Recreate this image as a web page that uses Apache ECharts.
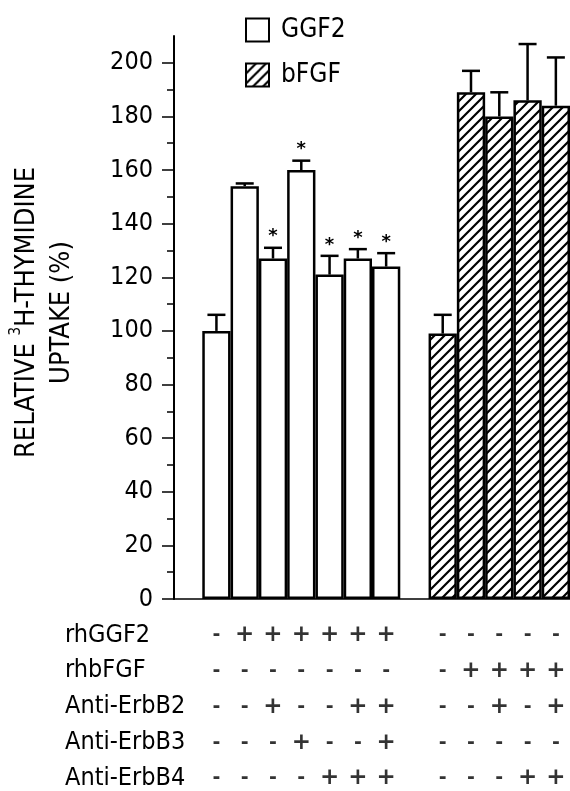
<!DOCTYPE html>
<html>
<head>
<meta charset="utf-8">
<script src="https://cdn.jsdelivr.net/npm/echarts@6/dist/echarts.min.js"></script>
<style>
html,body{margin:0;padding:0;background:#fff;}
#chart{width:570px;height:791px;}
</style>
</head>
<body>
<div id="chart"></div>
<script>
// ---- data ----
var categories = ['gapA','G1','G2','G3','G4','G5','G6','G7','gapB','B1','B2','B3','B4','B5'];
var ggf2Values = [100, 154, 127, 160, 121, 127, 124];
var ggf2Errors = [6, 1, 4, 3.5, 7, 3.5, 5];
var ggf2Stars  = [0, 0, 1, 1, 1, 1, 1];
var bfgfValues = [99, 189, 180, 186, 184];
var bfgfErrors = [7, 8, 9, 21, 18];
var yTickLabels = [0, 20, 40, 60, 80, 100, 120, 140, 160, 180, 200];
var tableRows = ['rhGGF2', 'rhbFGF', 'Anti-ErbB2', 'Anti-ErbB3', 'Anti-ErbB4'];
var ggf2Signs = [
  ['-','+','+','+','+','+','+'],
  ['-','-','-','-','-','-','-'],
  ['-','-','+','-','-','+','+'],
  ['-','-','-','+','-','-','+'],
  ['-','-','-','-','+','+','+']
];
var bfgfSigns = [
  ['-','-','-','-','-'],
  ['-','+','+','+','+'],
  ['-','-','+','-','+'],
  ['-','-','-','-','-'],
  ['-','-','-','+','+']
];

var FONT = "'Liberation Sans Narrow','DejaVu Sans Condensed','Liberation Sans',sans-serif";

// hatch pattern
function makeHatch() {
  var c = document.createElement('canvas');
  c.width = 10; c.height = 10;
  var g = c.getContext('2d');
  g.fillStyle = '#fff'; g.fillRect(0,0,10,10);
  g.strokeStyle = '#000'; g.lineWidth = 2.2;
  g.beginPath();
  g.moveTo(-2, 12); g.lineTo(12, -2);
  g.moveTo(-7, 7); g.lineTo(7, -7);
  g.moveTo(3, 17); g.lineTo(17, 3);
  g.stroke();
  return c;
}
var hatch = makeHatch();

// build series data aligned to categories
var ggf2Offset = categories.indexOf('G1');
var bfgfOffset = categories.indexOf('B1');
var ggf2Data = categories.map(function(){ return null; });
var bfgfData = categories.map(function(){ return null; });
ggf2Values.forEach(function(v,i){ ggf2Data[ggf2Offset+i] = v; });
bfgfValues.forEach(function(v,i){ bfgfData[bfgfOffset+i] = v; });

var errData = [];
ggf2Values.forEach(function(v,i){ errData.push([ggf2Offset+i, v, v+ggf2Errors[i], ggf2Stars[i]]); });
bfgfValues.forEach(function(v,i){ errData.push([bfgfOffset+i, v, v+bfgfErrors[i], 0]); });

var signData = [];
tableRows.forEach(function(r, ri){
  ggf2Signs[ri].forEach(function(s, ci){ signData.push([ggf2Offset+ci, ri, s]); });
  bfgfSigns[ri].forEach(function(s, ci){ signData.push([bfgfOffset+ci, ri, s]); });
});

var chart = echarts.init(document.getElementById('chart'), null, {renderer:'canvas'});
var option = {
  backgroundColor: '#fff',
  animation: false,
  legend: {
    orient: 'vertical',
    left: 240, top: 12,
    itemWidth: 23, itemHeight: 23, itemGap: 19,
    icon: 'rect',
    textStyle: { fontFamily: FONT, fontSize: 26, color: '#000', padding: [0,0,0,7] },
    data: ['GGF2', 'bFGF']
  },
  grid: [
    { left: 174, right: -7, top: 36, bottom: 192, containLabel: false },
    { left: 174, right: -7, top: 635, height: 144, containLabel: false }
  ],
  xAxis: [
    { type: 'category', gridIndex: 0, data: categories,
      axisLine: { show: true, lineStyle: { color: '#000', width: 1.5 } },
      axisTick: { show: false }, axisLabel: { show: false }, splitLine: { show: false } },
    { type: 'category', gridIndex: 1, data: categories,
      axisLine: { show: false }, axisTick: { show: false }, axisLabel: { show: false }, splitLine: { show: false } }
  ],
  yAxis: [
    { type: 'value', gridIndex: 0, min: 0, max: 210, interval: 20,
      name: 'RELATIVE {sup|3}H-THYMIDINE\nUPTAKE (%)',
      nameLocation: 'middle', nameRotate: 90, nameGap: 95,
      nameTextStyle: { fontFamily: FONT, fontSize: 27, color: '#000', lineHeight: 35, align: 'center', padding: [0,0,0,10],
        rich: { sup: { fontFamily: FONT, fontSize: 15, color: '#000', verticalAlign: 'top', lineHeight: 35, padding:[0,0,10,0] } } },
      axisLine: { show: true, lineStyle: { color: '#000', width: 2 } },
      axisTick: { show: true, length: 12, lineStyle: { color: '#000', width: 1.5 }, customValues: yTickLabels },
      minorTick: { show: true, splitNumber: 2, length: 7, lineStyle: { color: '#000', width: 1.5 } },
      axisLabel: { customValues: yTickLabels, margin: 21, fontFamily: FONT, fontSize: 25, color: '#000' },
      splitLine: { show: false }, minorSplitLine: { show: false } },
    { type: 'category', gridIndex: 1, data: tableRows, inverse: true, boundaryGap: false,
      axisLine: { show: false }, axisTick: { show: false }, splitLine: { show: false },
      axisLabel: { margin: 109, align: 'left', fontFamily: FONT, fontSize: 25, color: '#000' } }
  ],
  series: [
    { name: 'GGF2', type: 'bar', xAxisIndex: 0, yAxisIndex: 0, data: ggf2Data,
      barWidth: '100%', barGap: '-100%', barCategoryGap: 0,
      itemStyle: { color: '#fff', borderColor: '#000', borderWidth: 2.5 } },
    { name: 'bFGF', type: 'bar', xAxisIndex: 0, yAxisIndex: 0, data: bfgfData,
      barWidth: '100%', barGap: '-100%', barCategoryGap: 0,
      itemStyle: { color: { image: hatch, repeat: 'repeat' }, borderColor: '#000', borderWidth: 2.5 } },
    { type: 'custom', xAxisIndex: 0, yAxisIndex: 0, data: errData, z: 5,
      renderItem: function(params, api){
        var x = api.value(0);
        var top = api.coord([x, api.value(1)]);
        var hi = api.coord([x, api.value(2)]);
        var half = 9;
        var children = [
          { type: 'line', shape: { x1: top[0], y1: top[1], x2: hi[0], y2: hi[1] }, style: { stroke: '#000', lineWidth: 2.5 } },
          { type: 'line', shape: { x1: hi[0]-half, y1: hi[1], x2: hi[0]+half, y2: hi[1] }, style: { stroke: '#000', lineWidth: 2.5 } }
        ];
        if (api.value(3)) {
          children.push({ type: 'text', style: { text: '*', x: hi[0], y: hi[1]-2, align: 'center', verticalAlign: 'bottom',
            fontSize: 18, fontWeight: 'bold', fontFamily: 'DejaVu Sans', fill: '#000' } });
        }
        return { type: 'group', children: children };
      } },
    { type: 'scatter', xAxisIndex: 1, yAxisIndex: 1, data: signData, symbolSize: 0,
      label: { show: true, position: 'inside',
        formatter: function(p){ return p.value[2] === '+' ? '{p|+}' : '{m|-}'; },
        rich: {
          p: { fontFamily: 'DejaVu Sans', fontWeight: 'bold', fontSize: 23, color: '#000' },
          m: { fontFamily: 'DejaVu Sans', fontWeight: 'bold', fontSize: 19, color: '#000' }
        } } }
  ]
};
chart.setOption(option);
</script>
</body>
</html>
